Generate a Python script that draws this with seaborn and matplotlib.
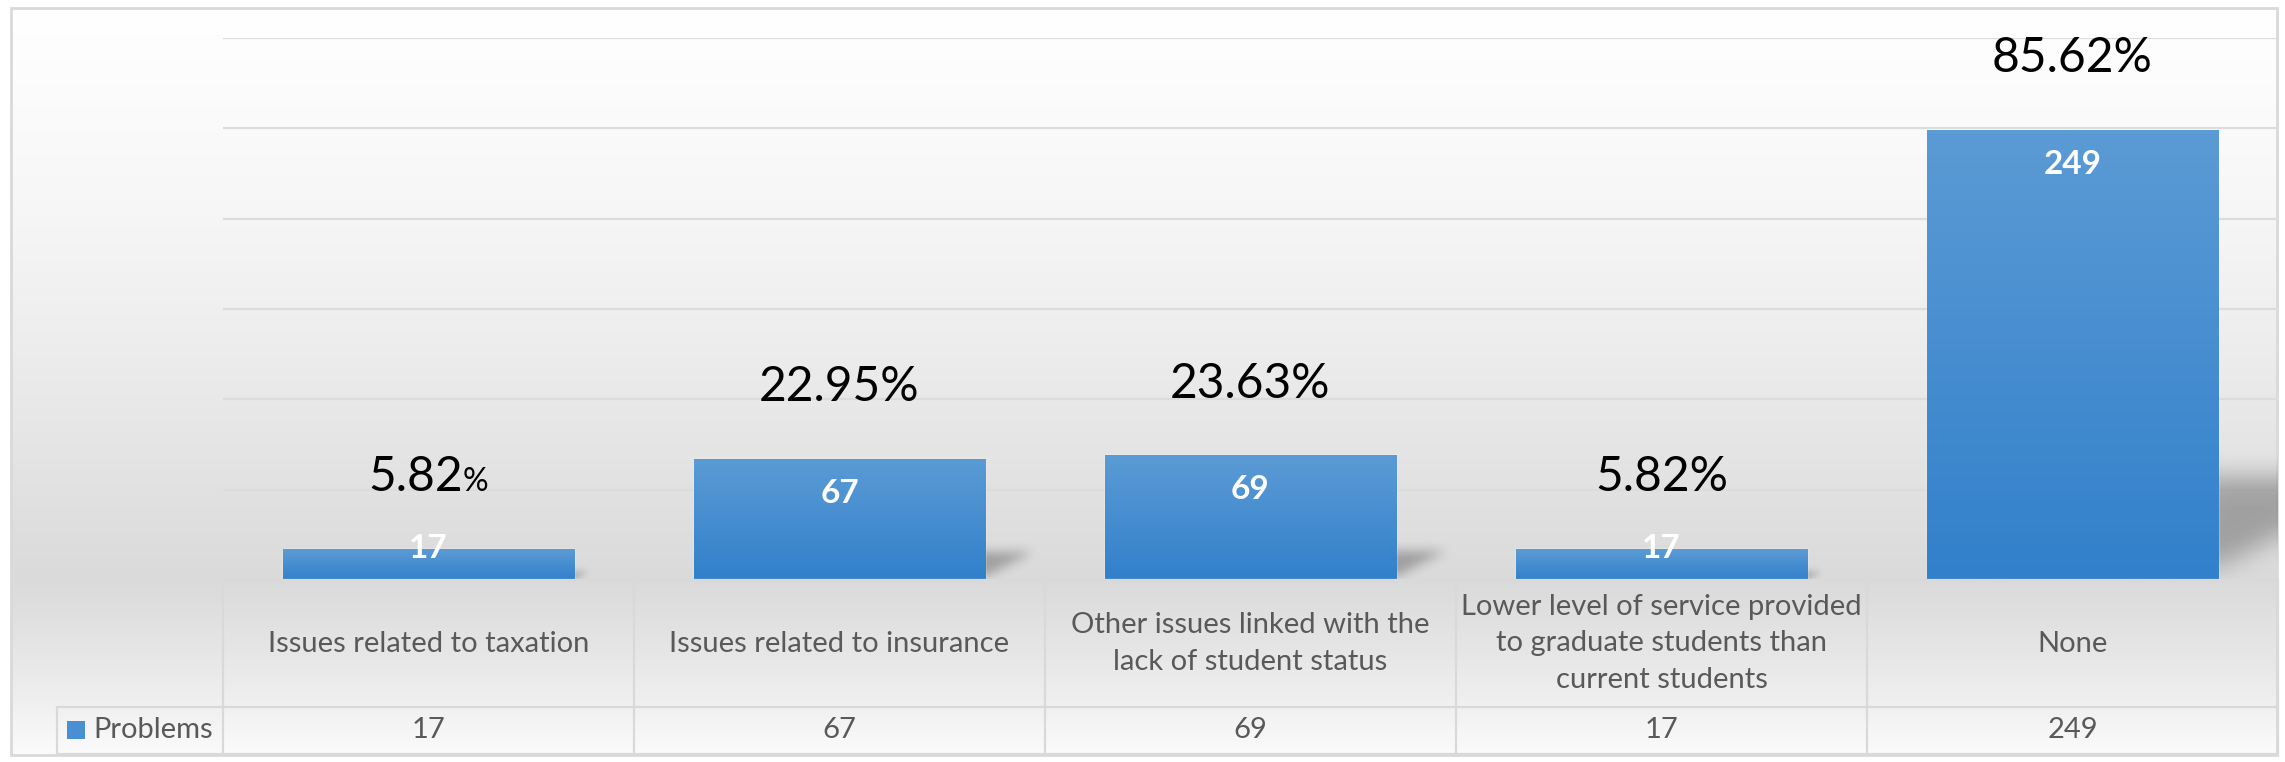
import numpy as np
import pandas as pd
import matplotlib
matplotlib.use("Agg")
import matplotlib.pyplot as plt
import seaborn as sns
from matplotlib.patches import Rectangle
from matplotlib.transforms import ScaledTranslation

# ---------------- data ----------------
categories = ["Issues related to taxation",
              "Issues related to insurance",
              "Other issues linked with the lack of student status",
              "Lower level of service provided to graduate students than current students",
              "None"]
category_labels = ["Issues related to taxation",
                   "Issues related to insurance",
                   "Other issues linked with the\nlack of student status",
                   "Lower level of service provided\nto graduate students than\ncurrent students",
                   "None"]
counts = [17, 67, 69, 17, 249]
percentages = [5.82, 22.95, 23.63, 5.82, 85.62]
small_percent_sign = [True, False, False, False, False]
series_name = "Problems"
y_ticks = [0, 50, 100, 150, 200, 250, 300]

# ---------------- figure ----------------
W, H, DPI = 2285, 762, 100
sns.set_theme(style="white")
plt.rcParams['font.family'] = ['Lato', 'DejaVu Sans']

fig = plt.figure(figsize=(W / DPI, H / DPI), dpi=DPI)
fig.patch.set_facecolor('white')

# background gradient (chart area)
bg = fig.add_axes([0, 0, 1, 1], zorder=-10)
bg.set_axis_off()
BL, BR, BT, BB = 11, 2277, 8, 755
stops_y = np.array([8, 60, 200, 330, 470, 580, 640, 705, 755])
stops_v = np.array([255, 253, 247, 238, 227, 218, 228, 240, 251]) / 255.0
ys = np.arange(BT, BB)
vals = np.interp(ys, stops_y, stops_v)
grad = np.dstack([np.repeat(vals[:, None], 2, axis=1)] * 3)
bg.imshow(grad, extent=[BL, BR, BB, BT], aspect='auto', interpolation='bilinear')
bg.add_patch(Rectangle((BL, BT), BR - BL, BB - BT, fill=False, edgecolor='#d9d9d9', lw=2))
bg.set_xlim(0, W)
bg.set_ylim(H, 0)

# ---------------- main plot ----------------
AX_L, AX_R, AX_T, AX_B = 223, 2278, 38, 580
ax = fig.add_axes([AX_L / W, (H - AX_B) / H, (AX_R - AX_L) / W, (AX_B - AX_T) / H])
ax.set_facecolor('none')
df = pd.DataFrame({"category": categories, "count": counts})
sns.barplot(data=df, x="category", y="count", ax=ax, color="#4a8fd2",
            width=0.71, saturation=1, zorder=3)

YMAX = 300
ax.set_ylim(0, YMAX)
ax.set_xlim(-0.5, 4.5)
ax.set_yticks(y_ticks)
ax.set_yticklabels([])
ax.set_xticks([])
ax.set_xlabel('')
ax.set_ylabel('')
ax.tick_params(length=0)
ax.grid(axis='y', color='#dcdcdc', lw=1.6)
ax.set_axisbelow(True)
for s in ax.spines.values():
    s.set_visible(False)

px_per_x = (AX_R - AX_L) / 5.0
px_per_y = (AX_B - AX_T) / YMAX

top_c = np.array([91, 155, 213]) / 255.0
bot_c = np.array([50, 128, 203]) / 255.0


def blur1d(a, sigma, axis):
    r = int(3 * sigma) + 1
    k = np.exp(-0.5 * (np.arange(-r, r + 1) / sigma) ** 2)
    k /= k.sum()
    return np.apply_along_axis(lambda m: np.convolve(m, k, mode='same'), axis, a)


for p in list(ax.patches):
    x0 = p.get_x()
    w = p.get_width()
    v = p.get_height()
    xr = x0 + w
    h_px = v * px_per_y
    # --- soft perspective shadow ---
    pad = 20
    uw = int(0.45 * h_px) + 2 * pad + 20
    vh = int(0.26 * h_px) + 2 * pad
    uu = np.arange(uw)[None, :] - pad - 20          # px right of bar edge
    ww = (np.arange(vh)[::-1])[:, None] - pad         # px above base
    mask = ((ww <= 0.23 * h_px) & (ww >= 0.03 * h_px + 0.5 * np.maximum(uu, 0))
            & (uu >= -20) & (ww >= 0)).astype(float)
    sig = 3 + 0.02 * h_px
    mask = blur1d(blur1d(mask, sig, 0), sig, 1)
    rgba = np.zeros((vh, uw, 4))
    rgba[..., 3] = mask * 0.28
    ext = [xr + (-pad - 20) / px_per_x, xr + (uw - pad - 20) / px_per_x,
           (-pad) / px_per_y, (vh - pad) / px_per_y]
    ax.imshow(rgba, extent=ext, aspect='auto', zorder=2, interpolation='bilinear')
    # --- gradient fill ---
    n = 64
    t = np.linspace(0, 1, n)[:, None]
    g = (top_c[None, :] * (1 - t) + bot_c[None, :] * t)[:, None, :]
    im = ax.imshow(g, extent=[x0, xr, 0, v], aspect='auto', zorder=3.5,
                   interpolation='bilinear')
    im.set_clip_path(p)

ax.set_ylim(0, YMAX)
ax.set_xlim(-0.5, 4.5)

# labels
fig.canvas.draw()
rend = fig.canvas.get_renderer()
for i, (c, pct) in enumerate(zip(counts, percentages)):
    yb = c + 32
    if small_percent_sign[i]:
        t1 = ax.text(i, yb, f"{pct:.2f}", fontsize=34.5, ha='left', va='baseline',
                     color='black', zorder=6)
        t2 = ax.text(i, yb, "%", fontsize=23, ha='left', va='baseline',
                     color='black', zorder=6)
        w1 = t1.get_window_extent(rend).width
        w2 = t2.get_window_extent(rend).width
        tot = w1 + w2
        t1.set_transform(ax.transData + ScaledTranslation(-tot / 2 / DPI, 0, fig.dpi_scale_trans))
        t2.set_transform(ax.transData + ScaledTranslation((-tot / 2 + w1) / DPI, 0, fig.dpi_scale_trans))
    else:
        ax.text(i, yb, f"{pct:.2f}%", fontsize=34.5, ha='center', va='baseline',
                color='black', zorder=6)
    yi = c - 19 if c >= 40 else c + 0.5
    ax.text(i, yi, str(c), fontsize=24, fontweight='bold', ha='center', va='center',
            color='white', zorder=6)

# ---------------- data table ----------------
TL, TB = 57, 754
tax = fig.add_axes([TL / W, (H - TB) / H, (AX_R - TL) / W, (TB - AX_B) / H])
tax.set_facecolor('none')
tax.set_axis_off()
lx = -0.5 - (AX_L - TL) / px_per_x
tax.set_xlim(lx, 4.5)
TH = TB - AX_B
tax.set_ylim(TH, 0)
ROW = 127
lc = '#d9d9d9'
kw = dict(color=lc, lw=1.6, clip_on=False, zorder=1)
tax.plot([-0.5, 4.5], [0, 0], **kw)
tax.plot([lx, 4.5], [ROW, ROW], **kw)
tax.plot([lx, 4.5], [TH, TH], **kw)
for xv in np.arange(-0.5, 5.0, 1.0):
    tax.plot([xv, xv], [0, TH], **kw)
tax.plot([lx, lx], [ROW, TH], **kw)

tc = '#595959'
for i, lab in enumerate(category_labels):
    tax.text(i, ROW / 2, lab, fontsize=21, ha='center', va='center', color=tc,
             linespacing=1.5)
for i, c in enumerate(counts):
    tax.text(i, (ROW + TH) / 2, str(c), fontsize=21, ha='center', va='center', color=tc)

# legend key
sq = 18
tax.add_patch(Rectangle((lx + (67 - TL) / px_per_x, 721 - AX_B), sq / px_per_x, sq,
                        facecolor='#4a8fd2', edgecolor='none', clip_on=False))
tax.text(lx + (93 - TL) / px_per_x, (ROW + TH) / 2, series_name, fontsize=21,
         ha='left', va='center', color=tc)

fig.savefig("out.png", dpi=DPI, facecolor='white')
